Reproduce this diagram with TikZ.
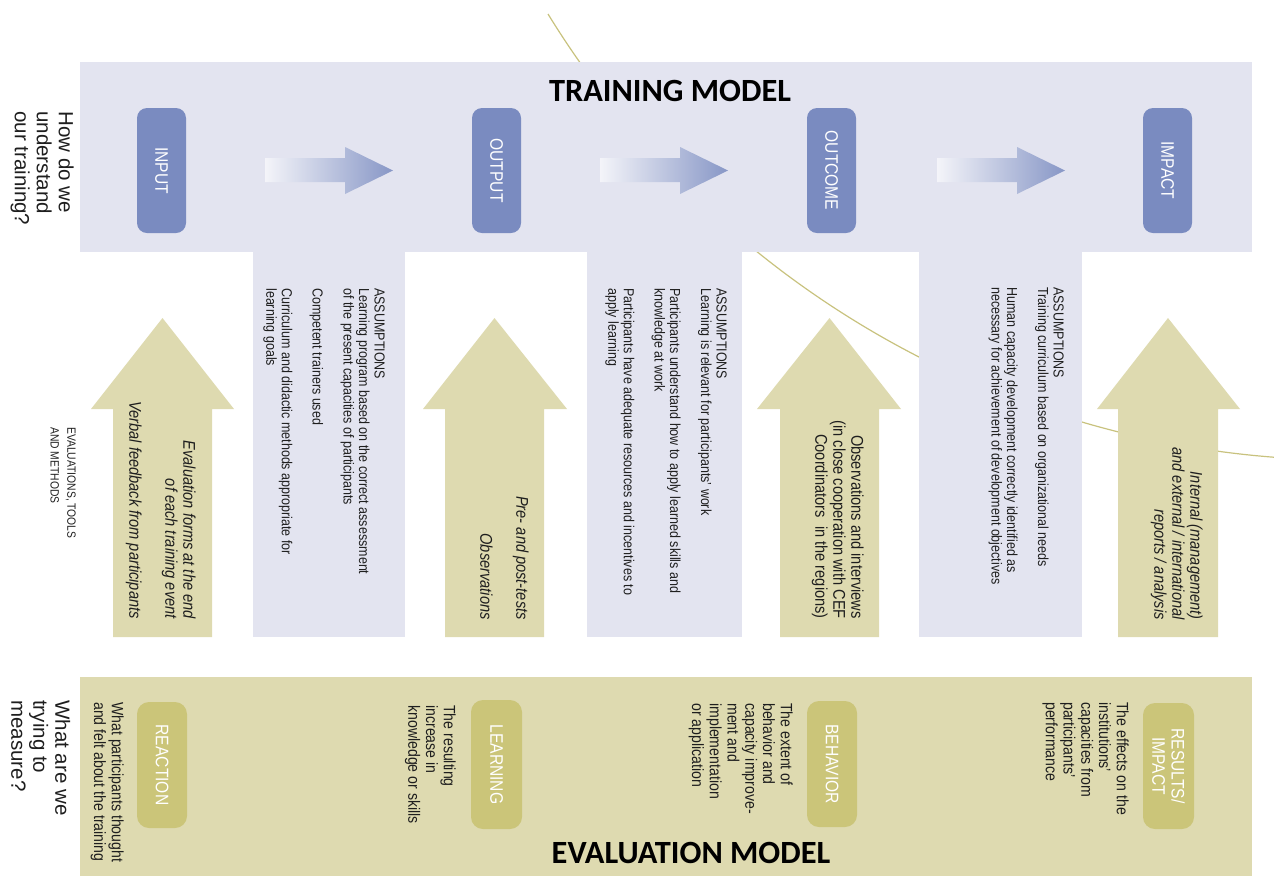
\documentclass[tikz,border=0pt]{standalone}
\usepackage{fontspec}
\setmainfont{Liberation Sans}
\newfontfamily\narrowfont[FakeStretch=0.86]{Liberation Sans}
\newfontfamily\titlefont{Carlito}
\definecolor{bandblue}{HTML}{E3E4F0}
\definecolor{boxblue}{HTML}{7A8BC0}
\definecolor{tan}{HTML}{DEDAB0}
\definecolor{olive}{HTML}{CBC579}
\definecolor{arcline}{HTML}{C8C27E}
\definecolor{txt}{HTML}{1E1E1E}
\tikzset{
  asm/.style={rotate=-90, anchor=north west, inner sep=0pt, align=left, text=txt,
    font=\narrowfont\fontsize{10.9}{11.6}\selectfont},
  evt/.style={rotate=-90, anchor=north east, inner sep=0pt, align=right, text=txt,
    font=\narrowfont\fontsize{12.75}{13.5}\selectfont},
  btxt/.style={rotate=-90, anchor=north west, inner sep=0pt, align=left, text=txt,
    font=\narrowfont\fontsize{12.3}{13.3}\selectfont},
  lbl/.style={rotate=-90, text=white, inner sep=0pt, align=center,
    font=\narrowfont\fontsize{13.6}{14.5}\selectfont},
  quest/.style={rotate=-90, anchor=north west, inner sep=0pt, align=left, text=txt,
    font=\fontsize{15.4}{16.5}\selectfont},
  evm/.style={rotate=-90, anchor=north west, inner sep=0pt, align=left, text=txt,
    font=\narrowfont\fontsize{9}{12.5}\selectfont},
  ttl/.style={inner sep=0pt, text=black, font=\titlefont\bfseries\fontsize{24.3}{30}\selectfont},
  bluebox/.style={fill=boxblue, rounded corners=7.5pt},
  olivebox/.style={fill=olive, rounded corners=9pt},
  tanarrow/.style={fill=tan},
  gradarrow/.style={left color=bandblue!40!white, right color=boxblue!90!white},
  arcstyle/.style={draw=arcline, line width=0.9pt}
}
\begin{document}
\begin{tikzpicture}[x=0.75pt,y=-0.75pt]
\useasboundingbox (0,0) rectangle (1274,876);
% background arc
\draw[arcstyle] (548,14) arc[start angle=211.6, end angle=265.6, radius=702.75pt];
% training band and assumption panels
\fill[bandblue] (80,62) rectangle (1252,252);
\fill[bandblue] (253,250) rectangle (405,637);
\fill[bandblue] (587,250) rectangle (742,637);
\fill[bandblue] (919,250) rectangle (1082,637);
% gradient arrows
\shade[gradarrow] (265,158) -- (345,158) -- (345,147) -- (393,170.5) -- (345,194) -- (345,182) -- (265,182) -- cycle;
\shade[gradarrow] (600,158) -- (680,158) -- (680,147) -- (728,170.5) -- (680,194) -- (680,182) -- (600,182) -- cycle;
\shade[gradarrow] (937,158) -- (1017,158) -- (1017,147) -- (1065,170.5) -- (1017,194) -- (1017,182) -- (937,182) -- cycle;
% tan up arrows
\fill[tanarrow] (113,637) -- (113,409) -- (91,409) -- (162.5,318) -- (234,409) -- (212,409) -- (212,637) -- cycle;
\fill[tanarrow] (445,637) -- (445,409) -- (423,409) -- (494.5,318) -- (567,409) -- (544,409) -- (544,637) -- cycle;
\fill[tanarrow] (780,637) -- (780,409) -- (757,409) -- (829.5,318) -- (901,409) -- (879,409) -- (879,637) -- cycle;
\fill[tanarrow] (1118,637) -- (1118,409) -- (1097,409) -- (1168,318) -- (1240,409) -- (1218,409) -- (1218,637) -- cycle;
% evaluation band
\fill[tan] (80,677) rectangle (1252,876);
% blue boxes
\fill[bluebox] (137,108) rectangle (186,233);
\fill[bluebox] (472,108) rectangle (521,233);
\fill[bluebox] (807,108) rectangle (856,233);
\fill[bluebox] (1143,108) rectangle (1192,233);
\node[lbl] (input) at (161.5,170.5) {INPUT};
\node[lbl] (output) at (496.5,170.5) {OUTPUT};
\node[lbl] (outcome) at (831.5,170.5) {OUTCOME};
\node[lbl] (impact) at (1167.5,170.5) {IMPACT};
% olive boxes
\fill[olivebox] (137,702) rectangle (187,828);
\fill[olivebox] (471,700) rectangle (522,829);
\fill[olivebox] (807,701) rectangle (857,827);
\fill[olivebox] (1143,703) rectangle (1194,829);
\node[lbl] (reaction) at (162,765) {REACTION};
\node[lbl] (learning) at (496.5,764.5) {LEARNING};
\node[lbl] (behavior) at (832,764) {BEHAVIOR};
\node[lbl] (results) at (1168.5,766) {RESULTS/\\IMPACT};
% titles
\node[ttl] (tmodel) at (670,91) {TRAINING MODEL};
\node[ttl] (emodel) at (691,853) {EVALUATION MODEL};
% questions
\node[quest] (q1) at (74,111) {How do we\\understand\\our training?};
\node[quest] (q2) at (70.5,700) {What are we\\trying to\\measure?};
\node[evm] (evm) at (76,427) {EVALUATIONS, TOOLS\\AND METHODS};
% assumptions
\node[asm] (a1) at (385,288) {ASSUMPTIONS\\Learning program based on the correct assessment\\of the present capacities of participants\\[11.6pt]Competent trainers used\\[11.6pt]Curriculum and didactic methods appropriate for\\learning goals};
\node[asm] (a2) at (727,288) {ASSUMPTIONS\\Learning is relevant for participants’ work\\[11.6pt]Participants understand how to apply learned skills and\\knowledge at work\\[11.6pt]Participants have adequate resources and incentives to\\apply learning};
\node[asm] (a3) at (1064,287) {ASSUMPTIONS\\Training curriculum based on organizational needs\\[11.6pt]Human capacity development correctly identified as\\necessary for achievement of development objectives};
% evaluation tools
\node[evt] (e1) at (196,619) {\itshape Evaluation forms at the end\\\itshape of each training event\\[13.5pt]\itshape Verbal feedback from participants};
\node[evt] (e2) at (529,620) {\itshape Pre- and post-tests\\[13.5pt]\itshape Observations};
\node[evt] (e3) at (864,619) {Observations and interviews\\(in close cooperation with CEF\\Coordinators\ \ in the regions)};
\node[evt] (e4) at (1203,620) {\itshape Internal (management)\\\itshape and external / international\\\itshape reports / analysis};
% measures
\node[btxt] (m1) at (124,702) {What participants thought\\and felt about the training};
\node[btxt] (m2) at (456,705) {The resulting\\increase in\\knowledge or skills};
\node[btxt] (m3) at (793,703) {The extent of\\behavior and\\capacity improve-\\ment and\\implementation\\or application};
\node[btxt] (m4) at (1129,702) {The effects on the\\institutions’\\capacities from\\participants’\\performance};
\end{tikzpicture}
\end{document}
